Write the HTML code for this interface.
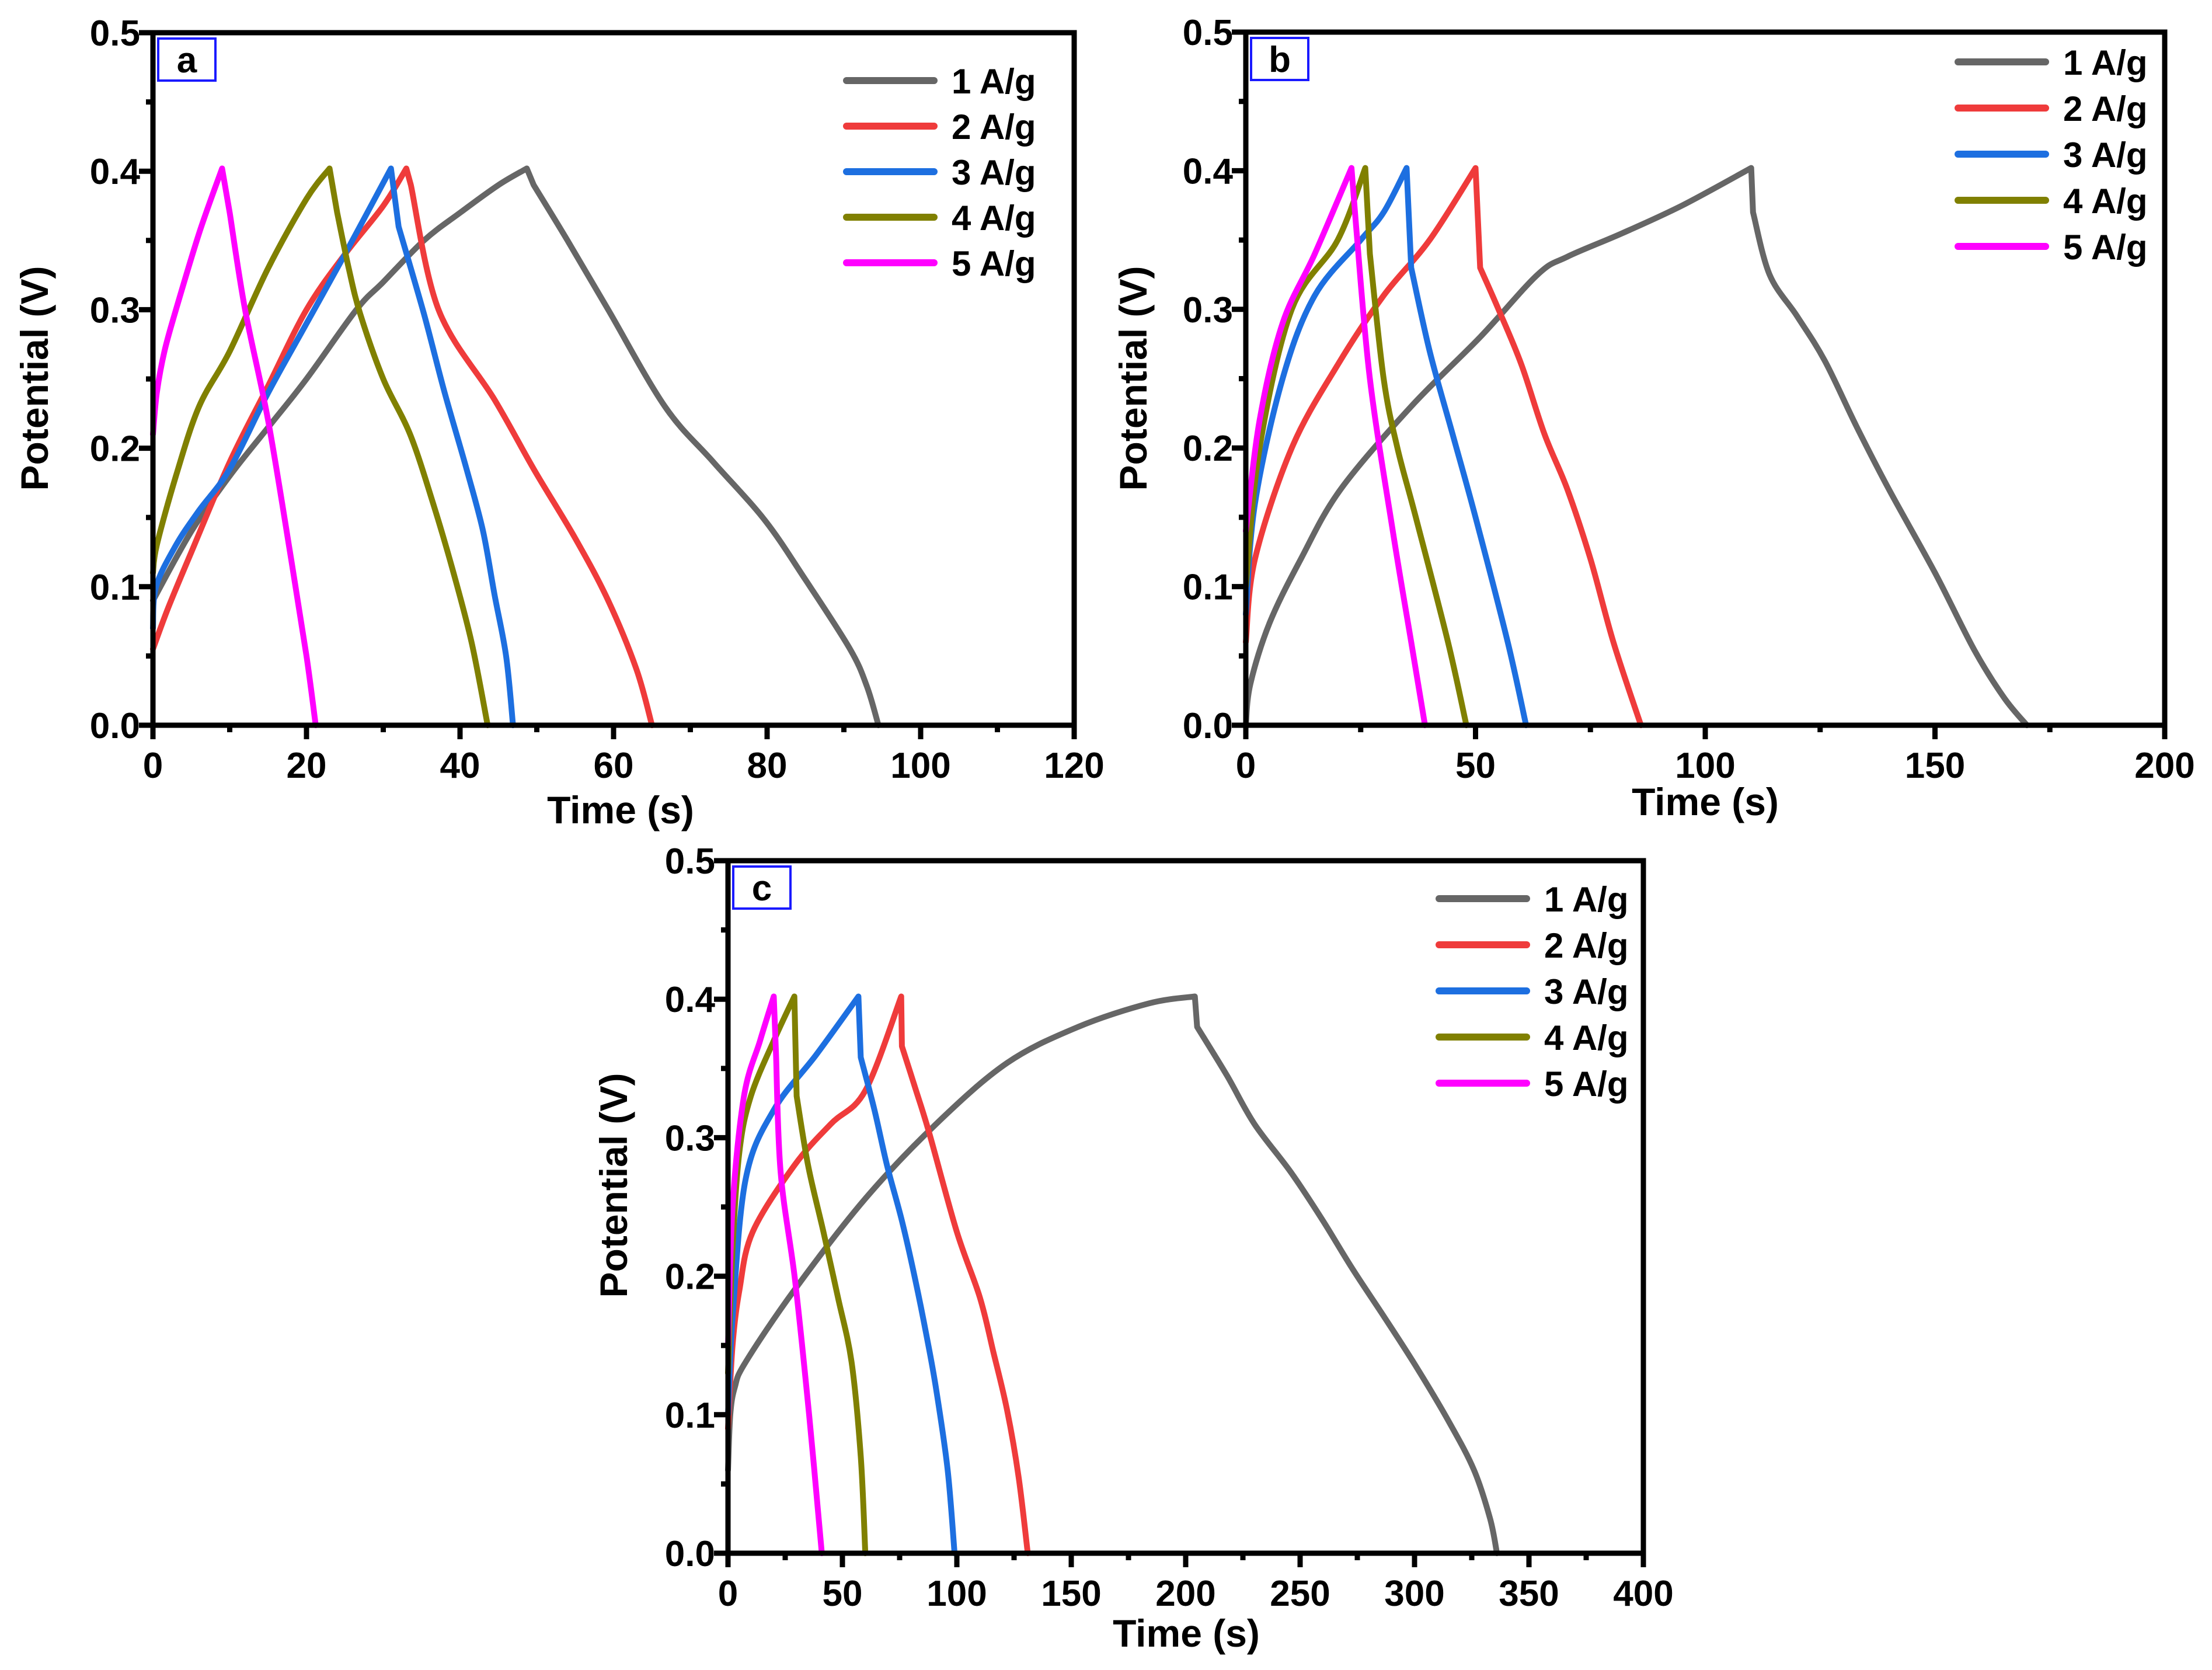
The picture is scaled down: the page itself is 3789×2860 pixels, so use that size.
<!DOCTYPE html>
<html><head><meta charset="utf-8"><style>
html,body{margin:0;padding:0;background:#fff;}
svg{display:block;}
text{font-family:"Liberation Sans",Arial,sans-serif;font-weight:bold;fill:#000;}
</style></head>
<body>
<svg id="fig" width="3789" height="2860" viewBox="0 0 3789 2860" xmlns="http://www.w3.org/2000/svg"></svg>
<script>
const seriesLabels = ["1 A/g","2 A/g","3 A/g","4 A/g","5 A/g"];
const seriesColors = ["#666666","#ef3b3b","#1d6fe0","#808000","#ff00ff"];
const yTicks = [0,0.1,0.2,0.3,0.4,0.5];
const yTickLabels = ["0.0","0.1","0.2","0.3","0.4","0.5"];
const aXTicks = [0,20,40,60,80,100,120];
const bXTicks = [0,50,100,150,200];
const cXTicks = [0,50,100,150,200,250,300,350,400];

// Panel a: [time s, potential V]
const a1 = [[0,0.09],[5,0.14],[10,0.18],[15,0.215],[20,0.25],[26.5,0.30],[30,0.32],[35.3,0.35],[40,0.37],[45,0.39],[48.7,0.402],[49.6,0.39],[54,0.35],[59.3,0.30],[66.7,0.23],[73,0.19],[79.7,0.148],[85,0.105],[90.8,0.055],[93,0.028],[94.5,0]];
const a2 = [[0,0.055],[2,0.085],[5,0.125],[10,0.19],[15,0.245],[20,0.30],[25,0.34],[30,0.375],[33,0.402],[33.6,0.39],[37.2,0.30],[44.5,0.235],[49.7,0.184],[55,0.135],[59.3,0.09],[63,0.04],[65,0]];
const a3 = [[0,0.07],[0.4,0.10],[3,0.13],[6,0.155],[10,0.185],[15,0.24],[20,0.29],[25,0.34],[31,0.402],[32,0.36],[35.3,0.297],[38,0.24],[40.9,0.184],[43,0.14],[44.5,0.094],[46,0.05],[46.9,0]];
const a4 = [[0,0.11],[0.5,0.13],[3,0.18],[6,0.23],[10,0.27],[15,0.33],[20,0.38],[23,0.402],[24,0.37],[25.5,0.33],[27,0.297],[30,0.25],[33.5,0.21],[36.5,0.16],[39,0.113],[41.5,0.06],[43.6,0]];
const a5 = [[0,0.21],[0.5,0.24],[1.5,0.27],[3,0.30],[6,0.355],[9,0.402],[10,0.37],[12,0.30],[15,0.22],[18,0.12],[20,0.05],[21.2,0]];

// Panel b
const b1 = [[0,0],[1,0.03],[5.2,0.074],[12,0.12],[20.6,0.17],[36,0.23],[51,0.28],[63.5,0.325],[70,0.338],[82,0.355],[95,0.375],[110,0.402],[110.4,0.37],[114,0.325],[120,0.295],[126,0.263],[133,0.215],[140,0.17],[150,0.11],[158.6,0.054],[165,0.02],[170,0]];
const b2 = [[0,0.06],[2,0.12],[10,0.2],[20,0.26],[30,0.31],[40,0.35],[50,0.402],[51,0.33],[55,0.30],[60,0.26],[65,0.21],[70,0.17],[75,0.12],[80,0.06],[86,0]];
const b3 = [[0,0.08],[2,0.16],[8,0.25],[15,0.31],[25,0.35],[30,0.37],[35,0.402],[36,0.33],[40,0.27],[45,0.21],[50,0.15],[57,0.06],[61,0]];
const b4 = [[0,0.10],[3,0.20],[10,0.30],[20,0.35],[26,0.402],[27,0.34],[30,0.25],[33,0.20],[37,0.15],[44,0.06],[48,0]];
const b5 = [[0,0.14],[3,0.22],[8,0.29],[15,0.34],[23,0.402],[24,0.36],[27,0.25],[32,0.14],[36,0.06],[39,0]];

// Panel c
const c1 = [[0,0.06],[1,0.10],[3,0.12],[7.7,0.138],[29,0.19],[60,0.256],[91,0.31],[122,0.354],[153,0.38],[184,0.397],[204,0.402],[205,0.38],[218,0.345],[230,0.31],[246,0.275],[260,0.24],[273,0.205],[287,0.17],[301,0.134],[315,0.095],[326,0.06],[333,0.025],[336,0]];
const c2 = [[0,0.09],[2,0.15],[5,0.19],[10.8,0.232],[29,0.28],[45,0.31],[60,0.334],[75.7,0.402],[76,0.366],[82,0.335],[88,0.303],[100,0.232],[110,0.185],[116,0.145],[122,0.103],[127,0.055],[131,0]];
const c3 = [[0,0.10],[2,0.17],[7.7,0.27],[20,0.32],[38.6,0.36],[57,0.402],[58,0.358],[64,0.32],[69.5,0.28],[76,0.24],[81.9,0.197],[87,0.155],[91,0.118],[96,0.06],[99,0]];
const c4 = [[0,0.13],[2,0.22],[5,0.29],[10,0.33],[20,0.37],[29,0.402],[30,0.33],[35,0.28],[41.7,0.232],[48,0.185],[54,0.138],[58,0.07],[60,0]];
const c5 = [[0,0.15],[2,0.25],[7,0.33],[14,0.37],[20,0.402],[21,0.36],[23,0.275],[29.3,0.197],[35.5,0.099],[41,0]];

const svg = document.getElementById('fig');
const NS = 'http://www.w3.org/2000/svg';
function mk(tag, attrs, parent){const e=document.createElementNS(NS,tag);for(const k in attrs)e.setAttribute(k,attrs[k]);(parent||svg).appendChild(e);return e;}

function smoothSeg(pts){
  // Catmull-Rom to cubic bezier
  let d='';
  for(let i=0;i<pts.length-1;i++){
    const p0=pts[Math.max(0,i-1)],p1=pts[i],p2=pts[i+1],p3=pts[Math.min(pts.length-1,i+2)];
    const c1x=p1[0]+(p2[0]-p0[0])/6,c1y=p1[1]+(p2[1]-p0[1])/6;
    const c2x=p2[0]-(p3[0]-p1[0])/6,c2y=p2[1]-(p3[1]-p1[1])/6;
    d+=' C'+c1x.toFixed(1)+' '+c1y.toFixed(1)+' '+c2x.toFixed(1)+' '+c2y.toFixed(1)+' '+p2[0].toFixed(1)+' '+p2[1].toFixed(1);
  }
  return d;
}

function panel(cfg){
  const g = mk('g',{});
  
  
  const L=cfg.L,R=cfg.R,T=cfg.T,B=cfg.B;
  const xs = v => L + (v - cfg.xmin)/(cfg.xmax-cfg.xmin)*(R-L);
  const ys = v => B - (v - 0)/(0.5-0)*(B-T);
  cfg.series.forEach((s,i)=>{
    const P = s.map(p=>[xs(p[0]),ys(p[1])]);
    let pk=0; s.forEach((p,j)=>{ if(p[1]>s[pk][1]) pk=j; });
    const charge=P.slice(0,pk+1), dis=P.slice(pk+1);
    let d='M'+charge[0][0].toFixed(1)+' '+charge[0][1].toFixed(1)+smoothSeg(charge);
    d+=' L'+dis[0][0].toFixed(1)+' '+dis[0][1].toFixed(1)+smoothSeg(dis);
    const p = mk('path',{d:d,fill:'none',stroke:seriesColors[i],'stroke-width':10,'stroke-linejoin':'round','stroke-linecap':'round'},g);
    
    
  });
  const fr = mk('rect',{x:L,y:T,width:R-L,height:B-T,fill:'none',stroke:'#000','stroke-width':9},g);
  
  
  const xt = cfg.xticks;
  const step = xt[1]-xt[0];
  for(let v=xt[0]; v<=xt[xt.length-1]+1e-9; v+=step/2){
    const major = Math.abs((v/step)-Math.round(v/step))<1e-6;
    mk('line',{x1:xs(v),x2:xs(v),y1:B,y2:B+(major?24:12),stroke:'#000','stroke-width':9},g);
  }
  xt.forEach(v=>{
    const t = mk('text',{x:xs(v),y:B+90,'font-size':62,'text-anchor':'middle'},g);
    t.textContent = v;
    
    
  });
  for(let k=0;k<=10;k++){
    const v=k*0.05, major=k%2===0;
    mk('line',{x1:L,x2:L-(major?24:12),y1:ys(v),y2:ys(v),stroke:'#000','stroke-width':9},g);
  }
  yTicks.forEach((v,i)=>{
    const t = mk('text',{x:L-22,y:ys(v)+22,'font-size':62,'text-anchor':'end'},g);
    t.textContent = yTickLabels[i];
    
    
  });
  const xtt = mk('text',{x:cfg.xtx,y:cfg.xty,'font-size':66,'text-anchor':'middle'},g);
  xtt.textContent = 'Time (s)';
  
  
  const ytt = mk('text',{x:0,y:0,'font-size':66,'text-anchor':'middle',transform:'translate('+cfg.ytx+' '+cfg.yty+') rotate(-90)'},g);
  ytt.textContent = 'Potential (V)';
  
  
  const bx = mk('rect',{x:L+9,y:T+10,width:98,height:72,fill:'#fff',stroke:'#1a1aff','stroke-width':4},g);
  
  
  const lt = mk('text',{x:L+58,y:T+68,'font-size':62,'text-anchor':'middle'},g);
  lt.textContent = cfg.id;
  
  
  seriesLabels.forEach((lab,i)=>{
    const y = cfg.legY + i*cfg.legDy;
    const ln = mk('line',{x1:cfg.legX,x2:cfg.legX+150,y1:y,y2:y,stroke:seriesColors[i],'stroke-width':12,'stroke-linecap':'round'},g);
    
    
    const t = mk('text',{x:cfg.legX+180,y:y+22,'font-size':60},g);
    t.textContent = lab;
    
    
  });
}

panel({id:'a',L:262,R:1840,T:56,B:1242,xmin:0,xmax:120,xticks:aXTicks,series:[a1,a2,a3,a4,a5],
  xtx:1063,xty:1410,ytx:82,yty:648,legX:1450,legY:138,legDy:78});
panel({id:'b',L:2134,R:3708,T:55,B:1242,xmin:0,xmax:200,xticks:bXTicks,series:[b1,b2,b3,b4,b5],
  xtx:2921,xty:1396,ytx:1964,yty:648,legX:3354,legY:106,legDy:79});
panel({id:'c',L:1247,R:2815,T:1474,B:2660,xmin:0,xmax:400,xticks:cXTicks,series:[c1,c2,c3,c4,c5],
  xtx:2032,xty:2820,ytx:1074,yty:2030,legX:2465,legY:1539,legDy:79});
</script>
</body></html>
